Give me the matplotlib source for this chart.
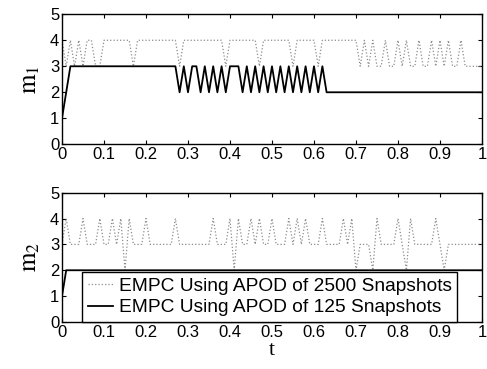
import numpy as np
import matplotlib
matplotlib.use('Agg')
import matplotlib.pyplot as plt

# time grid (step 0.01)
t = np.linspace(0, 1, 101)

# m1, APOD of 2500 snapshots (dotted)
m1_2500 = [4, 3, 4, 3, 4, 3, 4, 4, 3, 3,
           4, 4, 4, 4, 4, 4, 4, 3, 4, 4,
           4, 4, 4, 4, 4, 4, 4, 4, 3, 4,
           4, 4, 4, 4, 4, 4, 4, 4, 4, 3,
           4, 4, 4, 4, 4, 4, 4, 3, 4, 4,
           4, 4, 4, 4, 4, 3, 4, 4, 4, 4,
           4, 3, 4, 4, 4, 4, 4, 4, 4, 4,
           4, 3, 4, 3, 4, 3, 3, 4, 3, 3,
           4, 3, 4, 3, 3, 4, 3, 3, 4, 3,
           4, 3, 4, 3, 3, 4, 3, 3, 3, 3,
           3]
# m1, APOD of 125 snapshots (solid)
m1_125 = [1, 2, 3, 3, 3, 3, 3, 3, 3, 3,
          3, 3, 3, 3, 3, 3, 3, 3, 3, 3,
          3, 3, 3, 3, 3, 3, 3, 3, 2, 3,
          2, 3, 3, 2, 3, 2, 3, 2, 3, 2,
          3, 3, 3, 2, 3, 2, 3, 2, 3, 2,
          3, 2, 3, 2, 3, 2, 3, 2, 3, 2,
          3, 2, 3, 2, 2, 2, 2, 2, 2, 2,
          2, 2, 2, 2, 2, 2, 2, 2, 2, 2,
          2, 2, 2, 2, 2, 2, 2, 2, 2, 2,
          2, 2, 2, 2, 2, 2, 2, 2, 2, 2,
          2]
# m2, APOD of 2500 snapshots (dotted)
m2_2500 = [3, 4, 3, 3, 3, 4, 3, 3, 3, 4,
           3, 3, 4, 3, 4, 2, 4, 3, 3, 3,
           4, 3, 3, 3, 3, 3, 3, 4, 3, 3,
           3, 3, 3, 3, 3, 3, 4, 3, 3, 3,
           4, 2, 4, 3, 3, 4, 3, 4, 3, 3,
           4, 3, 3, 3, 4, 3, 4, 3, 4, 3,
           3, 3, 4, 3, 3, 3, 3, 4, 3, 4,
           2, 3, 3, 3, 2, 4, 3, 3, 3, 3,
           4, 3, 2, 4, 3, 3, 3, 3, 3, 4,
           3, 2, 3, 3, 3, 3, 3, 3, 3, 3,
           3]
# m2, APOD of 125 snapshots (solid)
m2_125 = [1] + [2] * 100

xticks = [0, 0.1, 0.2, 0.3, 0.4, 0.5, 0.6, 0.7, 0.8, 0.9, 1]
xticklabels = ['0', '0.1', '0.2', '0.3', '0.4', '0.5', '0.6', '0.7', '0.8', '0.9', '1']
yticks = [0, 1, 2, 3, 4, 5]

plt.rcParams['font.family'] = ['Liberation Sans', 'DejaVu Sans']
plt.rcParams['mathtext.fontset'] = 'stix'

fig = plt.figure(figsize=(4.87, 3.69), dpi=100)
ax1 = fig.add_axes([0.1273, 0.609, 0.8624, 0.3523])
ax2 = fig.add_axes([0.1273, 0.1274, 0.8624, 0.3505])

for ax, dotted, solid, lab in [(ax1, m1_2500, m1_125, r'$\mathrm{m}_1$'),
                               (ax2, m2_2500, m2_125, r'$\mathrm{m}_2$')]:
    ax.plot(t, dotted, ls=':', color='#8c8c8c', lw=0.9,
            label='EMPC Using APOD of 2500 Snapshots')
    ax.plot(t, solid, ls='-', color='black', lw=1.3,
            label='EMPC Using APOD of 125 Snapshots')
    ax.set_xlim(0, 1)
    ax.set_ylim(0, 5)
    ax.set_xticks(xticks)
    ax.set_xticklabels(xticklabels)
    ax.set_yticks(yticks)
    ax.tick_params(direction='in', top=True, right=True, length=3,
                   labelsize=12, pad=2)
    for s in ax.spines.values():
        s.set_linewidth(1.0)
    ax.set_ylabel(lab, fontsize=18, labelpad=6)

ax2.set_xlabel('t', fontsize=16, family='Liberation Serif', labelpad=1)

leg = ax2.legend(loc='lower center', bbox_to_anchor=(0.495, 0.0),
                 borderaxespad=0, fontsize=13.8, fancybox=False,
                 edgecolor='black', framealpha=1, handlelength=1.3,
                 handletextpad=0.3, labelspacing=0.2, borderpad=0.3)
leg.get_frame().set_linewidth(1.0)

fig.savefig('out.png', dpi=100)
